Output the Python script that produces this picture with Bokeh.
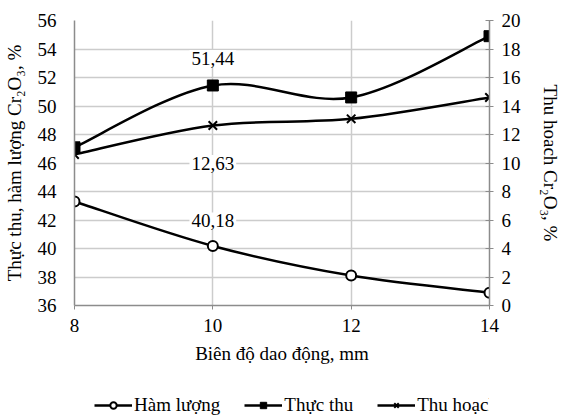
from bokeh.plotting import figure
from bokeh.layouts import column
from bokeh.models import (Range1d, LinearAxis, FixedTicker, Legend, LegendItem, Label)
from bokeh.embed import file_html
from bokeh.resources import INLINE

# ---- data ----
amplitude = [8, 10, 12, 14]
ham_luong = [43.3, 40.18, 38.1, 36.9]     # left axis
thuc_thu = [47.1, 51.44, 50.6, 54.9]      # left axis
thu_hoach = [10.6, 12.63, 13.1, 14.6]     # right axis
x_ticks = [8, 10, 12, 14]
left_ticks = [36, 38, 40, 42, 44, 46, 48, 50, 52, 54, 56]
right_ticks = [0, 2, 4, 6, 8, 10, 12, 14, 16, 18, 20]
labels_series = ["Hàm lượng", "Thực thu", "Thu hoạch"]

FONT = "Liberation Serif"
FS = "19px"
GRID = "#cccccc"
AXIS = "#8c8c8c"

p = figure(width=563, height=375, x_range=Range1d(8, 14), y_range=Range1d(36, 56),
           output_backend="svg", toolbar_location=None,
           min_border_left=73, min_border_right=60, min_border_top=20, min_border_bottom=70)
p.extra_y_ranges = {"right": Range1d(0, 20)}
p.outline_line_color = None
p.background_fill_color = "white"
p.border_fill_color = "white"

# axes
xa = p.xaxis[0]
xa.ticker = FixedTicker(ticks=x_ticks)
xa.axis_label = "Biên độ dao động, mm"
ya = p.yaxis[0]
ya.ticker = FixedTicker(ticks=left_ticks)
ya.axis_label = "Thực thu, hàm lượng Cr₂O₃, %"
ra = LinearAxis(y_range_name="right", ticker=FixedTicker(ticks=right_ticks),
                axis_label="Thu hoach Cr₂O₃, %")
p.add_layout(ra, "right")

for ax in (xa, ya, ra):
    ax.axis_line_color = AXIS
    ax.axis_line_width = 1.5
    ax.major_tick_line_color = AXIS
    ax.minor_tick_line_color = None
    ax.major_label_text_font = FONT
    ax.major_label_text_font_size = FS
    ax.major_label_text_color = "black"
    ax.axis_label_text_font = FONT
    ax.axis_label_text_font_size = FS
    ax.axis_label_text_font_style = "normal"
    ax.axis_label_text_color = "black"

xa.major_tick_in = 0
xa.major_tick_out = 4
xa.major_label_standoff = 9
xa.axis_label_standoff = 8
ya.major_tick_in = 0
ya.major_tick_out = 0
ya.major_label_standoff = 18
ya.axis_label_standoff = 10
ra.major_tick_in = 4
ra.major_tick_out = 4
ra.major_label_standoff = 8
ra.axis_label_standoff = 16

p.xgrid.ticker = FixedTicker(ticks=x_ticks)
p.ygrid.ticker = FixedTicker(ticks=left_ticks)
p.xgrid.grid_line_color = GRID
p.ygrid.grid_line_color = GRID
p.xgrid.grid_line_width = 1.5
p.ygrid.grid_line_width = 1.5


def smooth(xs, ys):
    """Catmull-Rom style bezier control points through the given data points."""
    n = len(xs)
    out = dict(x0=[], y0=[], x1=[], y1=[], cx0=[], cy0=[], cx1=[], cy1=[])
    for i in range(n - 1):
        im = max(i - 1, 0)
        ip2 = min(i + 2, n - 1)
        out["x0"].append(xs[i]); out["y0"].append(ys[i])
        out["x1"].append(xs[i + 1]); out["y1"].append(ys[i + 1])
        out["cx0"].append(xs[i] + (xs[i + 1] - xs[im]) / 6)
        out["cy0"].append(ys[i] + (ys[i + 1] - ys[im]) / 6)
        out["cx1"].append(xs[i + 1] - (xs[ip2] - xs[i]) / 6)
        out["cy1"].append(ys[i + 1] - (ys[ip2] - ys[i]) / 6)
    return out

LW = 2.5
series = [
    (ham_luong, "default", dict(marker="circle", size=10, fill_color="white", line_width=2)),
    (thuc_thu, "default", dict(marker="square", size=11, fill_color="black", line_width=1)),
    (thu_hoach, "right", dict(marker="x", size=12, line_width=2)),
]
for ys, rng, mk in series:
    b = smooth(amplitude, ys)
    p.bezier(line_color="black", line_width=LW, y_range_name=rng, **b)
    p.scatter(x=amplitude, y=ys, line_color="black", y_range_name=rng, **mk)

# data labels at 10 mm
def fmt(v):
    return f"{v:.2f}".replace(".", ",")

label_specs = [
    (thuc_thu[1], "default", 27),
    (thu_hoach[1], "right", -38),
    (ham_luong[1], "default", 25),
]
for v, rng, off in label_specs:
    p.add_layout(Label(x=amplitude[1], y=v, y_range_name=rng, text=fmt(v), y_offset=off,
                       text_align="center", text_baseline="middle",
                       text_font=FONT, text_font_size=FS, text_color="black",
                       background_fill_color="white", padding=2))

# ---- legend strip (same series drawn out of its view range, used as legend proxies) ----
lg = figure(width=563, height=43, x_range=Range1d(0, 1), y_range=Range1d(0, 1),
            output_backend="svg", toolbar_location=None,
            x_axis_location=None, y_axis_location=None,
            min_border_left=0, min_border_right=0, min_border_top=0, min_border_bottom=0)
lg.grid.visible = False
lg.outline_line_color = None
items = []
for (ys, rng, mk), name in zip(series, labels_series):
    lr = lg.line(x=amplitude, y=ys, line_color="black", line_width=LW)
    sr = lg.scatter(x=amplitude, y=ys, line_color="black", **mk)
    items.append(LegendItem(label=name, renderers=[lr, sr]))
legend = Legend(items=items, orientation="horizontal", location=(20, 2),
                label_text_font=FONT, label_text_font_size=FS, label_text_color="black",
                glyph_width=38, glyph_height=16, label_standoff=2, spacing=24,
                border_line_color=None, background_fill_alpha=0, margin=0, padding=2)
lg.add_layout(legend, "center")

layout = column(p, lg, spacing=0)
open("out.html", "w").write(file_html(layout, INLINE))
